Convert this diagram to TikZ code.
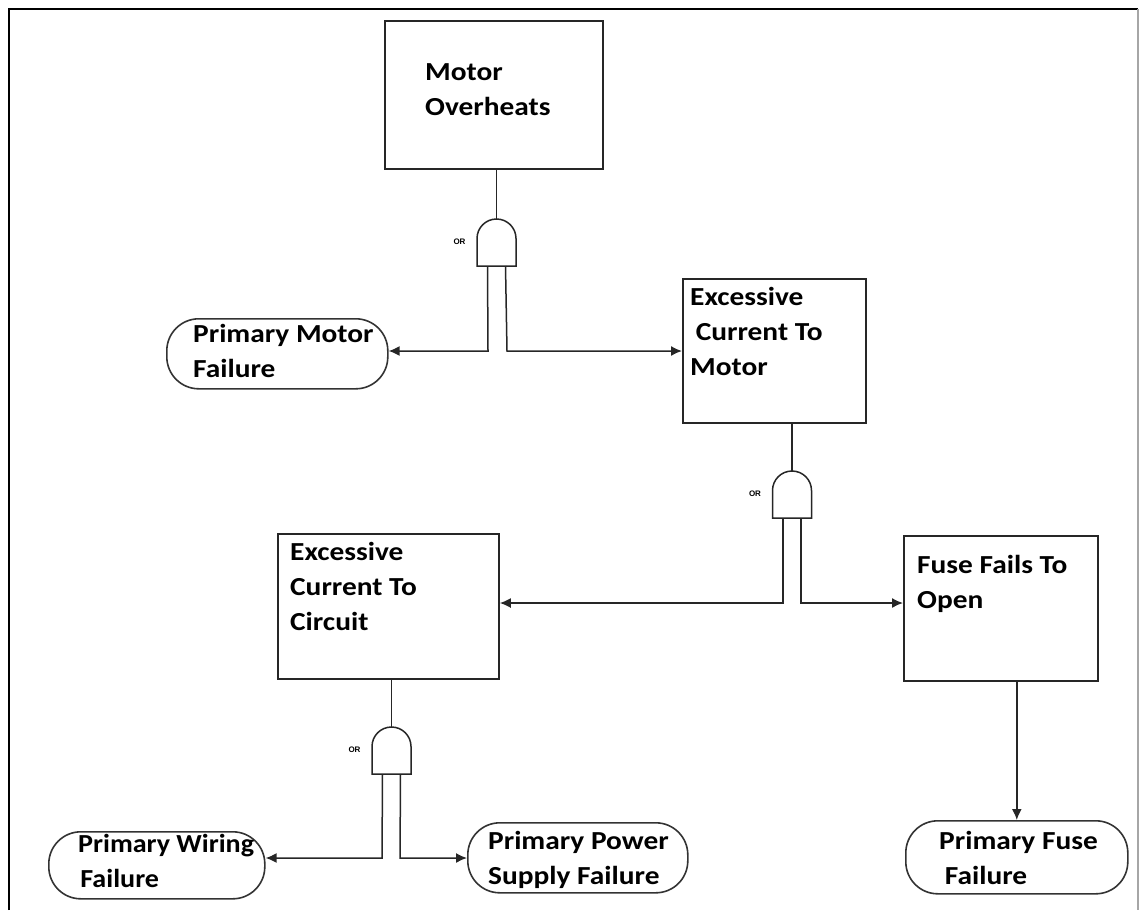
\documentclass[tikz,border=0pt]{standalone}
\usepackage{fontspec}
\usepackage{graphicx}
\setmainfont{Carlito}
\newfontfamily\orfont{Liberation Sans}
\usetikzlibrary{arrows.meta}

% OR gate: #1 name, #2 centre x, #3 top y (legs leave the flat bottom)
\newcommand\orgate[3]{%
  \draw[gate] (#2-19.5,#3+47) -- (#2-19.5,#3+19.5)
    .. controls (#2-19.5,#3+8.73) and (#2-10.77,#3) .. (#2,#3)
    .. controls (#2+10.77,#3) and (#2+19.5,#3+8.73) .. (#2+19.5,#3+19.5)
    -- (#2+19.5,#3+47) -- cycle;
  \coordinate (#1top) at (#2,#3);
  \coordinate (#1l) at (#2-9,#3+47);
  \coordinate (#1r) at (#2+9,#3+47);
  \node[gatelabel] (#1lab) at (#2-37,#3+23) {OR};
}
% event caption: lines set left-aligned, widened a little
\newcommand\evlines[2][1.13]{\scalebox{#1}[1]{\begin{tabular}[t]{@{}l@{}}#2\end{tabular}}}

\begin{document}
\begin{tikzpicture}[x=1pt,y=-1pt,
  event/.style={draw=black!85,line width=1.8pt,rectangle,inner sep=0pt,anchor=north west},
  basic/.style={draw=black!80,line width=1.6pt,rounded corners=32pt,inner sep=0pt,anchor=north west},
  evtext/.style={anchor=base west,inner sep=0pt,
    font=\fontsize{26}{35}\selectfont\bfseries,text=black},
  gate/.style={draw=black!85,line width=1.5pt,fill=white},
  wire/.style={draw=black!85,line width=1.5pt},
  arr/.style={wire,-{Latex[length=11pt,width=10pt]}},
  gatelabel/.style={font=\orfont\bfseries\fontsize{8}{8}\selectfont,inner sep=0pt}
]
\useasboundingbox (0,0) rectangle (1139,910);

% page frame (open at the bottom)
\draw[black,line width=2.5pt] (9,910) -- (9,9) -- (1137.5,9);
\draw[black!35,line width=2pt] (1137.5,9) -- (1137.5,910);

% events
\node[event,minimum width=218pt,minimum height=148pt] (mo) at (384,20) {};
\node[evtext] (motxt) at (425,80) {\evlines{Motor\\Overheats}};

\node[event,minimum width=183pt,minimum height=144pt] (ecm) at (682,278) {};
\node[evtext] (ecmtxt) at (690,305) {\evlines{Excessive\\\hspace*{5pt}Current To\\Motor}};

\node[event,minimum width=221pt,minimum height=145pt] (ecc) at (277,533) {};
\node[evtext] (ecctxt) at (290,560) {\evlines{Excessive\\Current To\\Circuit}};

\node[event,minimum width=194pt,minimum height=145pt] (ffo) at (903,535) {};
\node[evtext] (ffotxt) at (917,573) {\evlines{Fuse Fails To\\Open}};

% basic events
\node[basic,minimum width=221pt,minimum height=70pt] (pmf) at (166,318) {};
\node[evtext] (pmftxt) at (193,342) {\evlines{Primary Motor\\Failure}};

\node[basic,minimum width=216pt,minimum height=67pt] (pwf) at (48,831) {};
\node[evtext] (pwftxt) at (78,852) {\evlines[1.08]{Primary Wiring\\\hspace*{2pt}Failure}};

\node[basic,minimum width=220pt,minimum height=70pt] (psf) at (467,822) {};
\node[evtext] (psftxt) at (488,849) {\evlines{Primary Power\\Supply Failure}};

\node[basic,minimum width=222pt,minimum height=73pt] (pff) at (905,820) {};
\node[evtext] (pfftxt) at (939,849) {\evlines{Primary Fuse\\\hspace*{5pt}Failure}};

% gates
\orgate{ga}{496.5}{219}
\orgate{gb}{792}{471}
\orgate{gc}{391.5}{727}

% connectors
\coordinate (gal2) at (488,351);
\coordinate (gar2) at (507,351);
\coordinate (gbl2) at (783,603);
\coordinate (gbr2) at (801,603);
\coordinate (gcl2) at (382,858);
\coordinate (gcr2) at (400,858);

\draw[wire] (gatop |- mo.south) -- (gatop);
\draw[arr] (gal) -- (gal2) -- (pmf.east |- gal2);
\draw[arr] (gar) -- (gar2) -- (ecm.west |- gar2);

\draw[wire] (gbtop |- ecm.south) -- (gbtop);
\draw[arr] (gbl) -- (gbl2) -- (ecc.east |- gbl2);
\draw[arr] (gbr) -- (gbr2) -- (ffo.west |- gbr2);

\draw[wire] (gctop |- ecc.south) -- (gctop);
\draw[arr] (gcl) -- (gcl2) -- (pwf.east |- gcl2);
\draw[arr] (gcr) -- (gcr2) -- (psf.west |- gcr2);

\draw[arr] (pff.north |- ffo.south) -- (pff.north);
\end{tikzpicture}
\end{document}
